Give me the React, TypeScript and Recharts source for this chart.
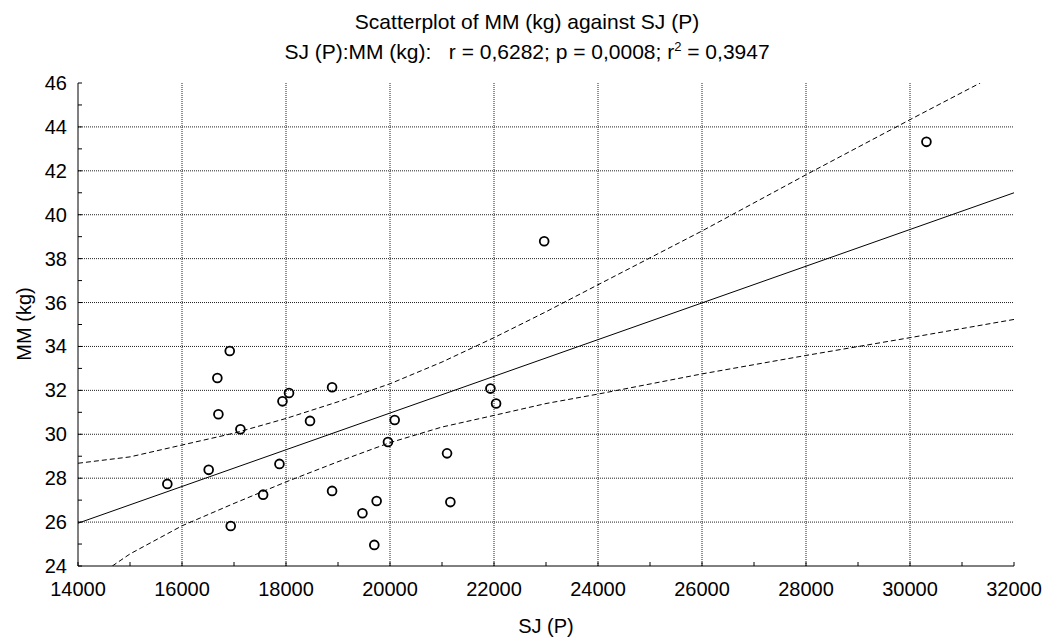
import { ComposedChart, XAxis, YAxis, Scatter, Line, ReferenceLine } from 'recharts';

// observed pairs
const SJ_P = [
  15718, 16513, 16680, 16700, 16918, 16937, 17123, 17560, 17874, 17932, 18058, 18462, 18886,
  18886, 19470, 19698, 19743, 19961, 20090, 21097, 21161, 21931, 22040, 22965, 30316,
];
const MM_KG = [
  27.74, 28.38, 32.56, 30.91, 33.79, 25.82, 30.23, 27.25, 28.65, 31.5, 31.88, 30.61, 32.14,
  27.42, 26.4, 24.96, 26.96, 29.65, 30.65, 29.13, 26.91, 32.08, 31.4, 38.79, 43.32,
];

// fitted line
const FIT_X = [14000, 32000];
const FIT_Y = [25.95, 41.0];

// 95% confidence band
const UPPER_X = [14000, 15000, 16000, 17000, 18000, 19000, 20000, 21000, 22000, 23000, 24000, 26000, 28000, 30000, 31350];
const UPPER_Y = [28.68, 28.97, 29.51, 30.05, 30.72, 31.48, 32.3, 33.29, 34.4, 35.58, 36.81, 39.26, 41.82, 44.33, 46.0];
const LOWER_X = [14660, 15000, 16000, 17000, 18000, 19000, 20000, 21000, 22000, 23000, 24000, 26000, 28000, 30000, 32000];
const LOWER_Y = [24.0, 24.55, 25.83, 26.85, 27.83, 28.75, 29.62, 30.33, 30.86, 31.4, 31.83, 32.75, 33.59, 34.4, 35.23];

const X_TICKS = [
  14000, 15000, 16000, 17000, 18000, 19000, 20000, 21000, 22000, 23000,
  24000, 25000, 26000, 27000, 28000, 29000, 30000, 31000, 32000,
];
const Y_TICKS = [24, 25, 26, 27, 28, 29, 30, 31, 32, 33, 34, 35, 36, 37, 38, 39, 40, 41, 42, 43, 44, 45, 46];
const X_GRID = [16000, 18000, 20000, 22000, 24000, 26000, 28000, 30000];
const Y_GRID = [26, 28, 30, 32, 34, 36, 38, 40, 42, 44];

const FONT = '"Liberation Sans", Arial, sans-serif';
const TICK = 4;

const toPoints = (xs: number[], ys: number[]) => xs.map((x, i) => ({ x, y: ys[i] }));

const scatterData = toPoints(SJ_P, MM_KG);
const fitData = toPoints(FIT_X, FIT_Y);
const upperData = toPoints(UPPER_X, UPPER_Y);
const lowerData = toPoints(LOWER_X, LOWER_Y);

const BottomTick = (props: any) => {
  const { x, y, payload } = props;
  const major = payload.value % 2000 === 0;
  return (
    <g>
      <line x1={x} y1={y} x2={x} y2={y - TICK} stroke="#000" />
      {major && (
        <text x={x} y={y + 30} textAnchor="middle" fontSize={20} fontFamily={FONT} fill="#000">
          {payload.value}
        </text>
      )}
    </g>
  );
};

const LeftTick = (props: any) => {
  const { x, y, payload } = props;
  const major = payload.value % 2 === 0;
  return (
    <g>
      <line x1={x} y1={y} x2={x + TICK} y2={y} stroke="#000" />
      {major && (
        <text x={x - 11} y={y + 7} textAnchor="end" fontSize={20} fontFamily={FONT} fill="#000">
          {payload.value}
        </text>
      )}
    </g>
  );
};

const TopTick = (props: any) => {
  const { x, y } = props;
  return <line x1={x} y1={y} x2={x} y2={y + TICK} stroke="#000" />;
};

const RightTick = (props: any) => {
  const { x, y } = props;
  return <line x1={x} y1={y} x2={x - TICK} y2={y} stroke="#000" />;
};

const OpenCircle = (props: any) => {
  const { cx, cy } = props;
  return <circle cx={cx} cy={cy} r={4.4} fill="none" stroke="#000" strokeWidth={1.8} />;
};

const gridStyle = { stroke: '#222', strokeDasharray: '1 1', strokeWidth: 1 };

export default function App() {
  return (
    <div style={{ position: 'absolute', left: 0, top: 0, width: 1044, height: 637, background: '#fff' }}>
      <ComposedChart width={1044} height={637} margin={{ top: 83, right: 30, bottom: 0, left: 0 }}>
        <XAxis
          dataKey="x"
          type="number"
          domain={[14000, 32000]}
          ticks={X_TICKS}
          interval={0}
          allowDataOverflow
          height={71}
          tickSize={0}
          tickMargin={0}
          tickLine={false}
          axisLine={{ stroke: '#000' }}
          tick={<BottomTick />}
        />
        <XAxis
          xAxisId="top"
          orientation="top"
          dataKey="x"
          type="number"
          domain={[14000, 32000]}
          ticks={X_TICKS}
          interval={0}
          allowDataOverflow
          height={0}
          tickSize={0}
          tickMargin={0}
          tickLine={false}
          axisLine={{ stroke: '#000' }}
          tick={<TopTick />}
        />
        <YAxis
          type="number"
          domain={[24, 46]}
          ticks={Y_TICKS}
          interval={0}
          allowDataOverflow
          width={78}
          tickSize={0}
          tickMargin={0}
          tickLine={false}
          axisLine={{ stroke: '#000' }}
          tick={<LeftTick />}
        />
        <YAxis
          yAxisId="right"
          orientation="right"
          type="number"
          domain={[24, 46]}
          ticks={Y_TICKS}
          interval={0}
          allowDataOverflow
          width={0}
          tickSize={0}
          tickMargin={0}
          tickLine={false}
          axisLine={{ stroke: '#000' }}
          tick={<RightTick />}
        />

        {X_GRID.map((v) => (
          <ReferenceLine key={`gx-${v}`} x={v} {...gridStyle} />
        ))}
        {Y_GRID.map((v) => (
          <ReferenceLine key={`gy-${v}`} y={v} {...gridStyle} />
        ))}

        <Line
          data={upperData}
          dataKey="y"
          type="linear"
          stroke="#000"
          strokeWidth={1}
          strokeDasharray="5 3"
          dot={false}
          activeDot={false}
          isAnimationActive={false}
        />
        <Line
          data={lowerData}
          dataKey="y"
          type="linear"
          stroke="#000"
          strokeWidth={1}
          strokeDasharray="5 3"
          dot={false}
          activeDot={false}
          isAnimationActive={false}
        />
        <Line
          data={fitData}
          dataKey="y"
          type="linear"
          stroke="#000"
          strokeWidth={1}
          dot={false}
          activeDot={false}
          isAnimationActive={false}
        />
        <Scatter data={scatterData} dataKey="y" shape={<OpenCircle />} isAnimationActive={false} />
      </ComposedChart>

      <svg
        width={1044}
        height={637}
        style={{ position: 'absolute', left: 0, top: 0, pointerEvents: 'none' }}
        fontFamily={FONT}
        fill="#000"
      >
        <text x={527} y={29} textAnchor="middle" fontSize={21}>
          Scatterplot of MM (kg) against SJ (P)
        </text>
        <text x={527} y={59} textAnchor="middle" fontSize={21} style={{ whiteSpace: 'pre' }}>
          {'SJ (P):MM (kg):   r = 0,6282; p = 0,0008; r'}
          <tspan dy={-8} fontSize={13}>2</tspan>
          <tspan dy={8}>{' = 0,3947'}</tspan>
        </text>
        <text x={546} y={633} textAnchor="middle" fontSize={20}>
          SJ (P)
        </text>
        <text x={-324} y={31} transform="rotate(-90)" textAnchor="middle" fontSize={20}>
          MM (kg)
        </text>
      </svg>
    </div>
  );
}
